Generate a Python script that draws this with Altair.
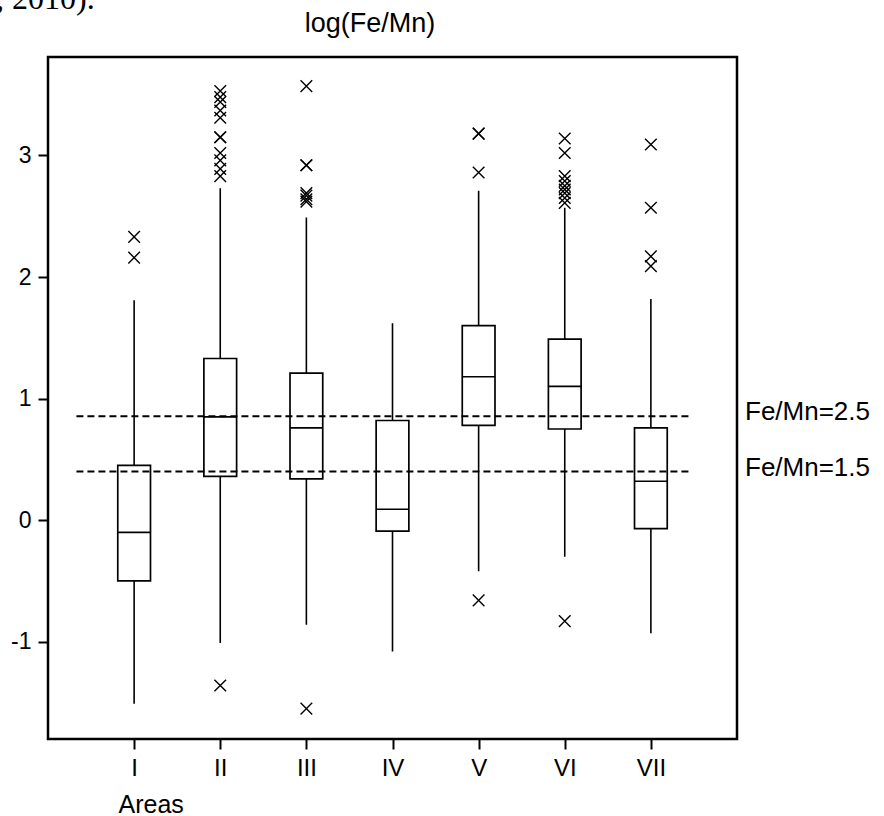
import json
import altair as alt
import pandas as pd

# ---------------- data ----------------
areas = ["I", "II", "III", "IV", "V", "VI", "VII"]
whisker_low = [-1.51, -1.01, -0.86, -1.08, -0.42, -0.30, -0.93]
q1 = [-0.50, 0.36, 0.34, -0.09, 0.78, 0.75, -0.07]
median = [-0.10, 0.85, 0.76, 0.09, 1.18, 1.10, 0.32]
q3 = [0.45, 1.33, 1.21, 0.82, 1.60, 1.49, 0.76]
whisker_high = [1.81, 2.73, 2.49, 1.62, 2.71, 2.57, 1.82]

outliers_I = [2.33, 2.16]
outliers_II = [3.53, 3.48, 3.44, 3.37, 3.31, 3.15, 3.15, 3.02, 2.96, 2.89, 2.83, -1.36]
outliers_III = [3.57, 2.92, 2.92, 2.69, 2.67, 2.64, 2.62, -1.55]
outliers_IV = []
outliers_V = [3.18, 3.18, 2.86, -0.66]
outliers_VI = [3.14, 3.02, 2.83, 2.79, 2.75, 2.72, 2.69, 2.65, 2.61, -0.83]
outliers_VII = [3.09, 2.57, 2.17, 2.09]

ref_values = [0.855, 0.40]
ref_labels = ["Fe/Mn=2.5", "Fe/Mn=1.5"]
y_ticks = [-1, 0, 1, 2, 3]

title_text = "log(Fe/Mn)"
x_title = "Areas"
page_fragment = ", 2010)."

# ---------------- tables ----------------
FONT = "Liberation Sans"
positions = list(range(1, len(areas) + 1))

box_df = pd.DataFrame({
    "area": areas, "pos": positions, "lo": whisker_low, "q1": q1,
    "median": median, "q3": q3, "hi": whisker_high,
})

all_outliers = [outliers_I, outliers_II, outliers_III, outliers_IV,
                outliers_V, outliers_VI, outliers_VII]
out_df = pd.DataFrame(
    [{"area": a, "pos": p, "value": v}
     for a, p, vals in zip(areas, positions, all_outliers) for v in vals]
)

ref_df = pd.DataFrame({"value": ref_values, "label": ref_labels})

x_scale = alt.Scale(domain=[0, 8], nice=False, zero=False)
y_scale = alt.Scale(domain=[-1.80, 3.81], nice=False, zero=False)

label_expr = json.dumps(areas) + "[datum.value - 1]"

x_axis = alt.Axis(
    values=positions, labelExpr=label_expr, title=x_title,
    titleX=70, titleY=73, titleAlign="left", titleBaseline="alphabetic",
    titleFont=FONT, titleFontSize=25, titleFontWeight="normal", titleColor="black",
    labelFont=FONT, labelFontSize=24, labelColor="black", labelPadding=7,
    tickSize=10, tickWidth=2, tickColor="black", domain=False, grid=False,
)
y_axis = alt.Axis(
    values=y_ticks, labelExpr="toString(datum.value)", title=None,
    labelFont=FONT, labelFontSize=23, labelColor="black", labelPadding=7,
    tickSize=10, tickWidth=2, tickColor="black", domain=False, grid=False,
)

X = alt.X("pos:Q", scale=x_scale, axis=x_axis)
base = alt.Chart(box_df)

whiskers = base.mark_rule(color="black", strokeWidth=1.6).encode(
    x=X,
    y=alt.Y("lo:Q", scale=y_scale, axis=y_axis),
    y2="hi:Q",
)

boxes = base.transform_calculate(
    xl="datum.pos - 0.19", xr="datum.pos + 0.19"
).mark_rect(fill="white", stroke="black", strokeWidth=1.7).encode(
    x=alt.X("xl:Q", scale=x_scale),
    x2="xr:Q",
    y=alt.Y("q1:Q", scale=y_scale),
    y2="q3:Q",
)

medians = base.transform_calculate(
    xl="datum.pos - 0.19", xr="datum.pos + 0.19"
).mark_rule(color="black", strokeWidth=1.7).encode(
    x=alt.X("xl:Q", scale=x_scale),
    x2="xr:Q",
    y=alt.Y("median:Q", scale=y_scale),
)

points = alt.Chart(out_df).mark_point(
    shape="M-1,-1L1,1M1,-1L-1,1", size=135, filled=False,
    stroke="black", strokeWidth=1.4, opacity=1,
).encode(
    x=alt.X("pos:Q", scale=x_scale),
    y=alt.Y("value:Q", scale=y_scale),
)

ref_lines = alt.Chart(ref_df).transform_calculate(
    x0="0.33", x1="7.46"
).mark_rule(color="black", strokeWidth=1.9, strokeDash=[7, 4]).encode(
    x=alt.X("x0:Q", scale=x_scale),
    x2="x1:Q",
    y=alt.Y("value:Q", scale=y_scale),
)

ref_text = alt.Chart(ref_df).mark_text(
    align="left", baseline="middle", font=FONT, fontSize=26, color="black", dy=-4,
).encode(
    x=alt.value(697),
    y=alt.Y("value:Q", scale=y_scale),
    text="label:N",
)

title = alt.Chart(pd.DataFrame({"t": [title_text]})).mark_text(
    align="center", baseline="alphabetic", font=FONT, fontSize=27, color="black",
).encode(x=alt.value(322), y=alt.value(-25), text="t:N")

fragment = alt.Chart(pd.DataFrame({"t": [page_fragment]})).mark_text(
    align="left", baseline="alphabetic", font="Liberation Serif", fontSize=32,
    color="black",
).encode(x=alt.value(-52), y=alt.value(-48), text="t:N")

chart = alt.layer(
    whiskers, boxes, medians, points, ref_lines, ref_text, title, fragment
).properties(
    width=689, height=682,
    autosize=alt.AutoSizeParams(type="none"),
    padding={"left": 48, "top": 57, "right": 147, "bottom": 77},
    background="white",
).configure_view(
    stroke="black", strokeWidth=2.5
)

chart.save("out.html", embed_options={"renderer": "svg", "actions": False})
